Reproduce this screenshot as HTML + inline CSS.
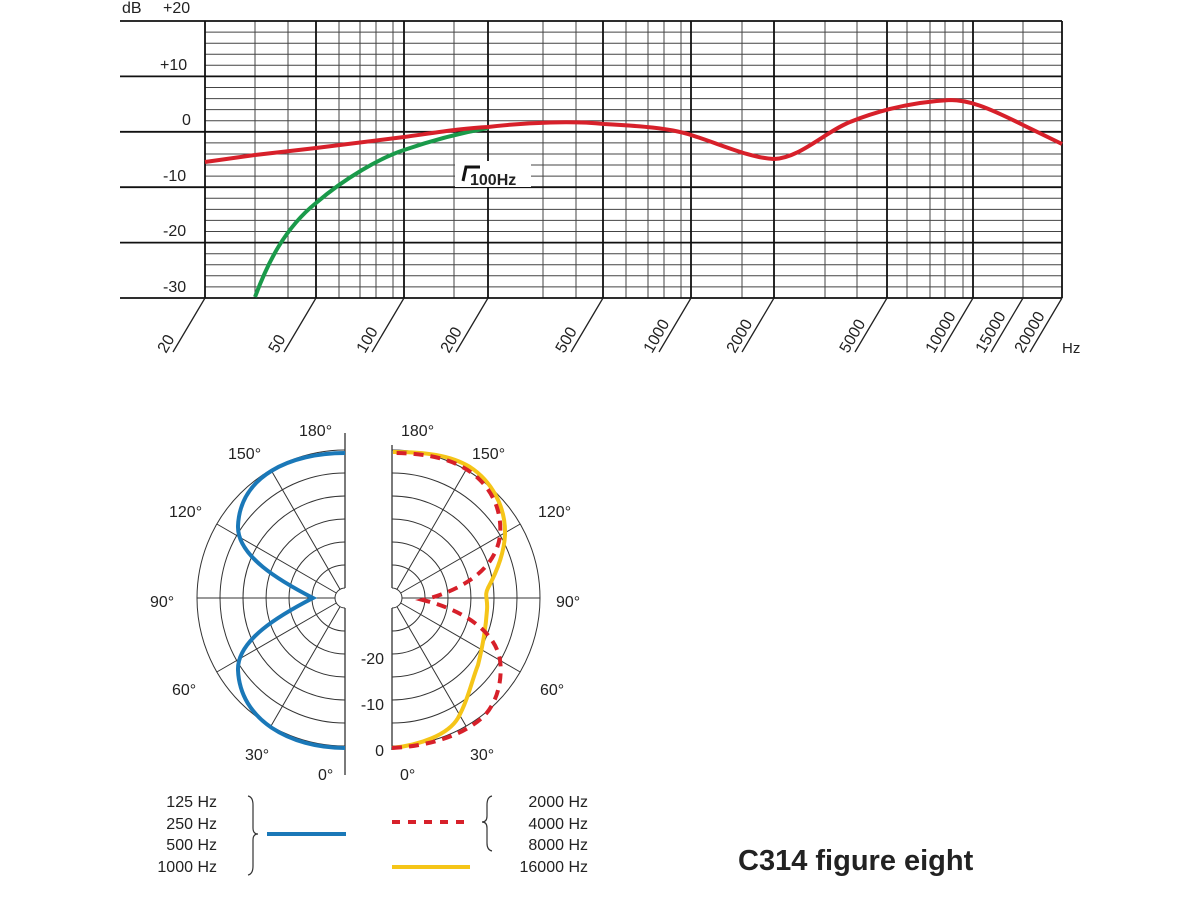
<!DOCTYPE html>
<html><head><meta charset="utf-8"><style>
html,body{margin:0;padding:0;background:#fff;}
svg{display:block;}
text{font-family:"Liberation Sans",sans-serif;fill:#222;}
</style></head><body>
<svg width="1200" height="900" viewBox="0 0 1200 900" xmlns="http://www.w3.org/2000/svg">
<g stroke="#444" stroke-width="1">
<path d="M205,32.1H1062M205,43.2H1062M205,54.2H1062M205,65.3H1062M205,87.5H1062M205,98.6H1062M205,109.6H1062M205,120.7H1062M205,142.9H1062M205,154H1062M205,165H1062M205,176.1H1062M205,198.3H1062M205,209.4H1062M205,220.4H1062M205,231.5H1062M205,253.7H1062M205,264.8H1062M205,275.8H1062M205,286.9H1062"/>
<path d="M255,21V298M288,21V298M339,21V298M360,21V298M376,21V298M393,21V298M454,21V298M543,21V298M576,21V298M626,21V298M648,21V298M664,21V298M681,21V298M742,21V298M825,21V298M857,21V298M907,21V298M930,21V298M945,21V298M963,21V298M1023,21V298"/>
</g>
<g stroke="#111" stroke-width="1.8">
<path d="M120,21H1062M120,76.4H1062M120,131.8H1062M120,187.2H1062M120,242.6H1062M120,298H1062"/>
<path d="M205,21V298M316,21V298M404,21V298M488,21V298M603,21V298M691,21V298M774,21V298M887,21V298M973,21V298M1062,21V298"/>
</g>
<g stroke="#222" stroke-width="1.3">
<path d="M205,298l-32,54M316,298l-32,54M404,298l-32,54M488,298l-32,54M603,298l-32,54M691,298l-32,54M774,298l-32,54M887,298l-32,54M973,298l-32,54M1023,298l-32,54M1062,298l-32,54"/>
</g>
<g font-size="16">
<text x="122" y="13">dB</text><text x="163" y="13">+20</text>
<text x="160" y="70">+10</text><text x="182" y="125">0</text>
<text x="163" y="181">-10</text><text x="163" y="236">-20</text><text x="163" y="292">-30</text>
<text transform="translate(166,354) rotate(-60)">20</text>
<text transform="translate(277,354) rotate(-60)">50</text>
<text transform="translate(365,354) rotate(-60)">100</text>
<text transform="translate(449,354) rotate(-60)">200</text>
<text transform="translate(564,354) rotate(-60)">500</text>
<text transform="translate(652,354) rotate(-60)">1000</text>
<text transform="translate(735,354) rotate(-60)">2000</text>
<text transform="translate(848,354) rotate(-60)">5000</text>
<text transform="translate(934,354) rotate(-60)">10000</text>
<text transform="translate(984,354) rotate(-60)">15000</text>
<text transform="translate(1023,354) rotate(-60)">20000</text>
<text x="1062" y="353" font-size="15">Hz</text>
</g>
<rect x="455" y="161" width="76" height="26" fill="#fff"/>
<path d="M463,181 L466,167 H480" fill="none" stroke="#111" stroke-width="3"/>
<text x="470" y="185" font-size="16" font-weight="bold">100Hz</text>
<path d="M255,297 C268,262 285,228 316,203 C345,178 380,158 404,150 C430,141 460,133 488,128" fill="none" stroke="#1a9a4a" stroke-width="4"/>
<path d="M205,162 L255,155 L316,148 L404,137 C440,132 465,128 488,127 C530,122 575,121 604,124 C640,126 670,128 691,135 C720,144 750,158 774,159 C800,158 825,132 850,122 C875,112 910,102 950,100 C968,100 985,106 1023,125 L1062,144" fill="none" stroke="#d7202a" stroke-width="4" stroke-linejoin="round"/>
<g fill="none" stroke="#333" stroke-width="1">
<path d="M345,450A148,148 0 0 0 345,746M345,473A125,125 0 0 0 345,723M345,496A102,102 0 0 0 345,700M345,519A79,79 0 0 0 345,677M345,542A56,56 0 0 0 345,654M345,565A33,33 0 0 0 345,631M345,588A10,10 0 0 0 345,608"/>
<path d="M392,450A148,148 0 0 1 392,746M392,473A125,125 0 0 1 392,723M392,496A102,102 0 0 1 392,700M392,519A79,79 0 0 1 392,677M392,542A56,56 0 0 1 392,654M392,565A33,33 0 0 1 392,631M392,588A10,10 0 0 1 392,608"/>
<path d="M271,726L340,606.7M216.8,672L336.3,603M197,598H335M216.8,524L336.3,593M271,470L340,589.3"/>
<path d="M466,726L397,606.7M520.2,672L400.7,603M540,598H402M520.2,524L400.7,593M466,470L397,589.3"/>
<path d="M345,433V588M345,608V775M392,445V588M392,608V750" stroke-width="1.3"/>
</g>
<path d="M345,748 C290,748 240,720 238,670 C237,640 280,615 313,598 C280,581 237,556 238,526 C240,476 290,453 345,453" fill="none" stroke="#1a78b8" stroke-width="4"/>
<path d="M392,748 C420,745 448,735 458,718 C468,700 472,680 478,665 C483,645 486,625 487,610 C488,598 484,596 488,588 C495,575 504,555 505,535 C506,505 490,480 470,467 C450,455 425,452 393,452" fill="none" stroke="#f5c518" stroke-width="4"/>
<path d="M392,748 C430,746 465,735 485,715 C500,698 502,675 500,660 C496,635 470,612 423,600 C470,588 496,565 500,536 C502,515 495,495 480,480 C460,460 430,453 392,453" fill="none" stroke="#d7202a" stroke-width="4" stroke-dasharray="10,7"/>
<g font-size="16">
<text x="299" y="436">180°</text><text x="401" y="436">180°</text>
<text x="228" y="459">150°</text><text x="472" y="459">150°</text>
<text x="169" y="517">120°</text><text x="538" y="517">120°</text>
<text x="150" y="607">90°</text><text x="556" y="607">90°</text>
<text x="172" y="695">60°</text><text x="540" y="695">60°</text>
<text x="245" y="760">30°</text><text x="470" y="760">30°</text>
<text x="318" y="780">0°</text><text x="400" y="780">0°</text>
<g text-anchor="end"><text x="384" y="664">-20</text><text x="384" y="710">-10</text><text x="384" y="756">0</text></g>
<g text-anchor="end">
<text x="217" y="807">125 Hz</text><text x="217" y="829">250 Hz</text><text x="217" y="850">500 Hz</text><text x="217" y="872">1000 Hz</text>
<text x="588" y="807">2000 Hz</text><text x="588" y="829">4000 Hz</text><text x="588" y="850">8000 Hz</text><text x="588" y="872">16000 Hz</text>
</g>
</g>
<path d="M248,796 Q253,797 253,805 V828 Q253,834 258,834 Q253,834 253,840 V866 Q253,874 248,875" fill="none" stroke="#333" stroke-width="1.2"/>
<path d="M492,796 Q487,797 487,805 V816 Q487,822 482,822 Q487,822 487,828 V843 Q487,850 492,851" fill="none" stroke="#333" stroke-width="1.2"/>
<path d="M267,834H346" stroke="#1a78b8" stroke-width="4"/>
<path d="M392,822H470" stroke="#d7202a" stroke-width="4" stroke-dasharray="8,8"/>
<path d="M392,867H470" stroke="#f5c518" stroke-width="4"/>
<text x="738" y="870" font-size="29" font-weight="bold" fill="#222">C314 figure eight</text>
</svg>
</body></html>
